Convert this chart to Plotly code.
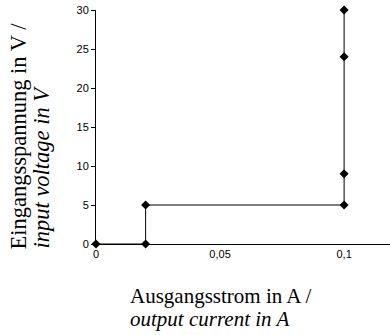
import plotly.graph_objects as go

current_A = [0, 0.02, 0.02, 0.1, 0.1, 0.1, 0.1]
voltage_V = [0, 0, 5, 5, 9, 24, 30]
x_tickvals = [0, 0.05, 0.1]
x_ticktext = ["0", "0,05", "0,1"]
y_tickvals = [0, 5, 10, 15, 20, 25, 30]

L, T, W, H = 96, 10, 294, 234


def px_x(px):
    return (px - L) / W


def px_y(py):
    return (T + H - py) / H


serif = "Liberation Serif, Times New Roman, serif"

fig = go.Figure()
fig.add_trace(go.Scatter(
    x=current_A, y=voltage_V, mode="lines+markers",
    line=dict(color="black", width=1),
    marker=dict(symbol="diamond", size=7, color="black"),
    cliponaxis=False, showlegend=False))

fig.update_layout(
    width=390, height=335,
    margin=dict(l=L, r=390 - L - W, t=T, b=335 - T - H),
    plot_bgcolor="white", paper_bgcolor="white",
    font=dict(family="Liberation Sans, Arial", size=11, color="black"),
    xaxis=dict(range=[0, 0.1185], tickvals=x_tickvals, ticktext=x_ticktext,
               showline=True, linecolor="black", linewidth=1, showgrid=False,
               zeroline=False, ticks="", ticklen=0),
    yaxis=dict(range=[0, 30], tickvals=y_tickvals, showline=True,
               linecolor="black", linewidth=1, showgrid=False, zeroline=False,
               ticks="outside", ticklen=4, tickcolor="black"),
    annotations=[
        dict(text="Ausgangsstrom in A /", xref="paper", yref="paper",
             x=px_x(128), y=px_y(296), xanchor="left", yanchor="middle",
             showarrow=False, font=dict(family=serif, size=21)),
        dict(text="<i>output current in A</i>", xref="paper", yref="paper",
             x=px_x(128), y=px_y(319), xanchor="left", yanchor="middle",
             showarrow=False, font=dict(family=serif, size=21)),
        dict(text="Eingangsspannung in V /", xref="paper", yref="paper",
             x=px_x(18), y=px_y(252), xanchor="center", yanchor="bottom",
             textangle=-90, showarrow=False, font=dict(family=serif, size=22.5)),
        dict(text="<i>input voltage in V</i>", xref="paper", yref="paper",
             x=px_x(41), y=px_y(250), xanchor="center", yanchor="bottom",
             textangle=-90, showarrow=False, font=dict(family=serif, size=22.5)),
    ],
)
fig.write_html("out.html", config={"displayModeBar": False},
               post_script="document.body.style.margin='0';")
